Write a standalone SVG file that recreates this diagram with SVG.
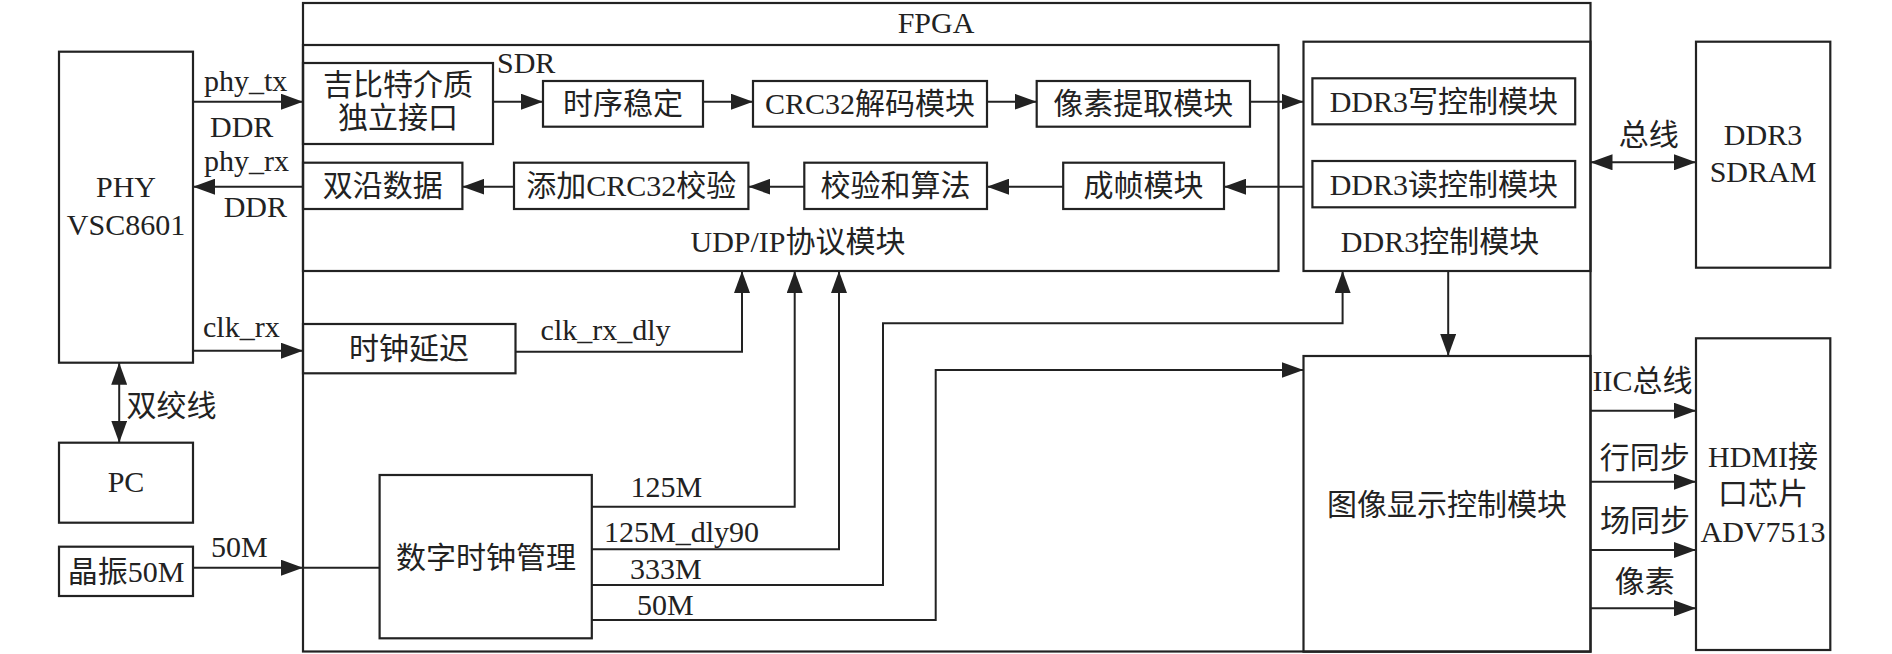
<svg xmlns="http://www.w3.org/2000/svg" width="1892" height="654" viewBox="0 0 1892 654">
<style>
  rect { fill: none; stroke: #222; stroke-width: 2.2; }
  .c { fill: none; stroke: #222; stroke-width: 2; }
  text { font-family: "Liberation Serif", "Noto Sans CJK SC", serif; font-size: 30px; fill: #222; }
  .m { text-anchor: middle; }
</style>
<defs>
  <marker id="a" viewBox="0 0 22 16" refX="22" refY="8" markerWidth="22" markerHeight="16" markerUnits="userSpaceOnUse" orient="auto-start-reverse">
    <path d="M0,0 L22,8 L0,16 z" fill="#222"/>
  </marker>
</defs>
<rect fill="#fff" x="0" y="0" width="1892" height="654" style="fill:#fff;stroke:none"/>

<g id="fpga"><rect x="303" y="3" width="1287.5" height="648.5"/><text class="m" x="936" y="33">FPGA</text></g>
<g id="udp"><rect x="303" y="45" width="975.5" height="226"/><text class="m" x="798" y="252">UDP/IP协议模块</text></g>
<g id="gmii"><rect x="303" y="63" width="190" height="81"/><text class="m" x="398" y="95">吉比特介质</text><text class="m" x="398" y="128">独立接口</text></g>
<g id="timing"><rect x="543" y="81" width="160" height="45.7"/><text class="m" x="623" y="114">时序稳定</text></g>
<g id="crcdec"><rect x="753" y="81" width="234" height="45.7"/><text class="m" x="870" y="114">CRC32解码模块</text></g>
<g id="pixext"><rect x="1036.7" y="81" width="213.3" height="45.7"/><text class="m" x="1143.3" y="114">像素提取模块</text></g>
<g id="ddrdata"><rect x="303" y="162.7" width="159.4" height="46.3"/><text class="m" x="382.7" y="196">双沿数据</text></g>
<g id="crcadd"><rect x="514" y="162.7" width="234.4" height="46.3"/><text class="m" x="631.2" y="196">添加CRC32校验</text></g>
<g id="checksum"><rect x="804.3" y="162.7" width="182.7" height="46.3"/><text class="m" x="895.6" y="196">校验和算法</text></g>
<g id="frame"><rect x="1063.2" y="162.7" width="160.8" height="46.3"/><text class="m" x="1143.6" y="196">成帧模块</text></g>
<g id="ddr3ctrl"><rect x="1303.5" y="41.7" width="287" height="229.3"/><text class="m" x="1440" y="252">DDR3控制模块</text></g>
<g id="ddr3wr"><rect x="1312.4" y="78.3" width="262.8" height="46"/><text class="m" x="1443.8" y="112">DDR3写控制模块</text></g>
<g id="ddr3rd"><rect x="1312.4" y="161" width="262.8" height="46.3"/><text class="m" x="1443.8" y="195">DDR3读控制模块</text></g>
<g id="sdram"><rect x="1696" y="41.7" width="134.3" height="226"/><text class="m" x="1763" y="145">DDR3</text><text class="m" x="1763" y="182">SDRAM</text></g>
<g id="phy"><rect x="59" y="51.7" width="134" height="311"/><text class="m" x="126" y="197">PHY</text><text class="m" x="126" y="235">VSC8601</text></g>
<g id="pc"><rect x="59" y="442.7" width="134" height="80"/><text class="m" x="126" y="492">PC</text></g>
<g id="osc"><rect x="59" y="546.7" width="134" height="49.3"/><text class="m" x="126" y="582">晶振50M</text></g>
<g id="clkdly"><rect x="303" y="324" width="212.5" height="49.3"/><text class="m" x="409" y="359">时钟延迟</text></g>
<g id="dcm"><rect x="379.6" y="475" width="212.2" height="163.3"/><text class="m" x="486" y="568">数字时钟管理</text></g>
<g id="disp"><rect x="1303.5" y="356" width="287" height="295.7"/><text class="m" x="1447" y="515">图像显示控制模块</text></g>
<g id="hdmi"><rect x="1696" y="338.3" width="134.3" height="311.7"/><text class="m" x="1763" y="467">HDMI接</text><text class="m" x="1763" y="504">口芯片</text><text class="m" x="1763" y="542">ADV7513</text></g>

<g id="connectors">
  <path class="c" d="M193,101.7 H303" marker-end="url(#a)"/>
  <path class="c" d="M303,186.7 H193" marker-end="url(#a)"/>
  <path class="c" d="M493,101.7 H543" marker-end="url(#a)"/>
  <path class="c" d="M703,101.7 H753" marker-end="url(#a)"/>
  <path class="c" d="M987,101.7 H1036.7" marker-end="url(#a)"/>
  <path class="c" d="M1250,101.7 H1303.5" marker-end="url(#a)"/>
  <path class="c" d="M1303.5,186.7 H1224" marker-end="url(#a)"/>
  <path class="c" d="M1063.2,186.7 H987" marker-end="url(#a)"/>
  <path class="c" d="M804.3,186.7 H748.4" marker-end="url(#a)"/>
  <path class="c" d="M514,186.7 H462.4" marker-end="url(#a)"/>
  <path class="c" d="M193,350.7 H303" marker-end="url(#a)"/>
  <path class="c" d="M515.5,351.7 H742 V271" marker-end="url(#a)"/>
  <path class="c" d="M591.8,506.7 H794.7 V271" marker-end="url(#a)"/>
  <path class="c" d="M591.8,549.3 H839 V271" marker-end="url(#a)"/>
  <path class="c" d="M591.8,585 H883 V323.3 H1342.6 V271" marker-end="url(#a)"/>
  <path class="c" d="M591.8,620 H935.7 V370 H1303.5" marker-end="url(#a)"/>
  <path class="c" d="M1448.2,271 V356" marker-end="url(#a)"/>
  <path class="c" d="M1590.5,162.3 H1696" marker-start="url(#a)" marker-end="url(#a)"/>
  <path class="c" d="M119.2,362.7 V442.7" marker-start="url(#a)" marker-end="url(#a)"/>
  <path class="c" d="M193,567.7 H303" marker-end="url(#a)"/>
  <path class="c" d="M303,567.7 H379.6"/>
  <path class="c" d="M1590.5,410.7 H1696" marker-end="url(#a)"/>
  <path class="c" d="M1590.5,481.7 H1696" marker-end="url(#a)"/>
  <path class="c" d="M1590.5,550 H1696" marker-end="url(#a)"/>
  <path class="c" d="M1590.5,608.3 H1696" marker-end="url(#a)"/>
  <text x="497" y="72.7">SDR</text>
  <text x="204" y="91">phy_tx</text>
  <text x="210" y="136.7">DDR</text>
  <text x="204" y="170.5">phy_rx</text>
  <text x="223.7" y="216.7">DDR</text>
  <text x="1618.7" y="145">总线</text>
  <text x="126.5" y="416">双绞线</text>
  <text x="211" y="556.7">50M</text>
  <text x="203" y="336.7">clk_rx</text>
  <text x="540.6" y="340">clk_rx_dly</text>
  <text x="630.5" y="496.7">125M</text>
  <text x="604" y="541.7">125M_dly90</text>
  <text x="630" y="579.3">333M</text>
  <text x="637" y="615">50M</text>
  <text x="1592.5" y="391">IIC总线</text>
  <text x="1599.8" y="468">行同步</text>
  <text x="1600" y="531">场同步</text>
  <text x="1614.7" y="592">像素</text>
</g>
</svg>
